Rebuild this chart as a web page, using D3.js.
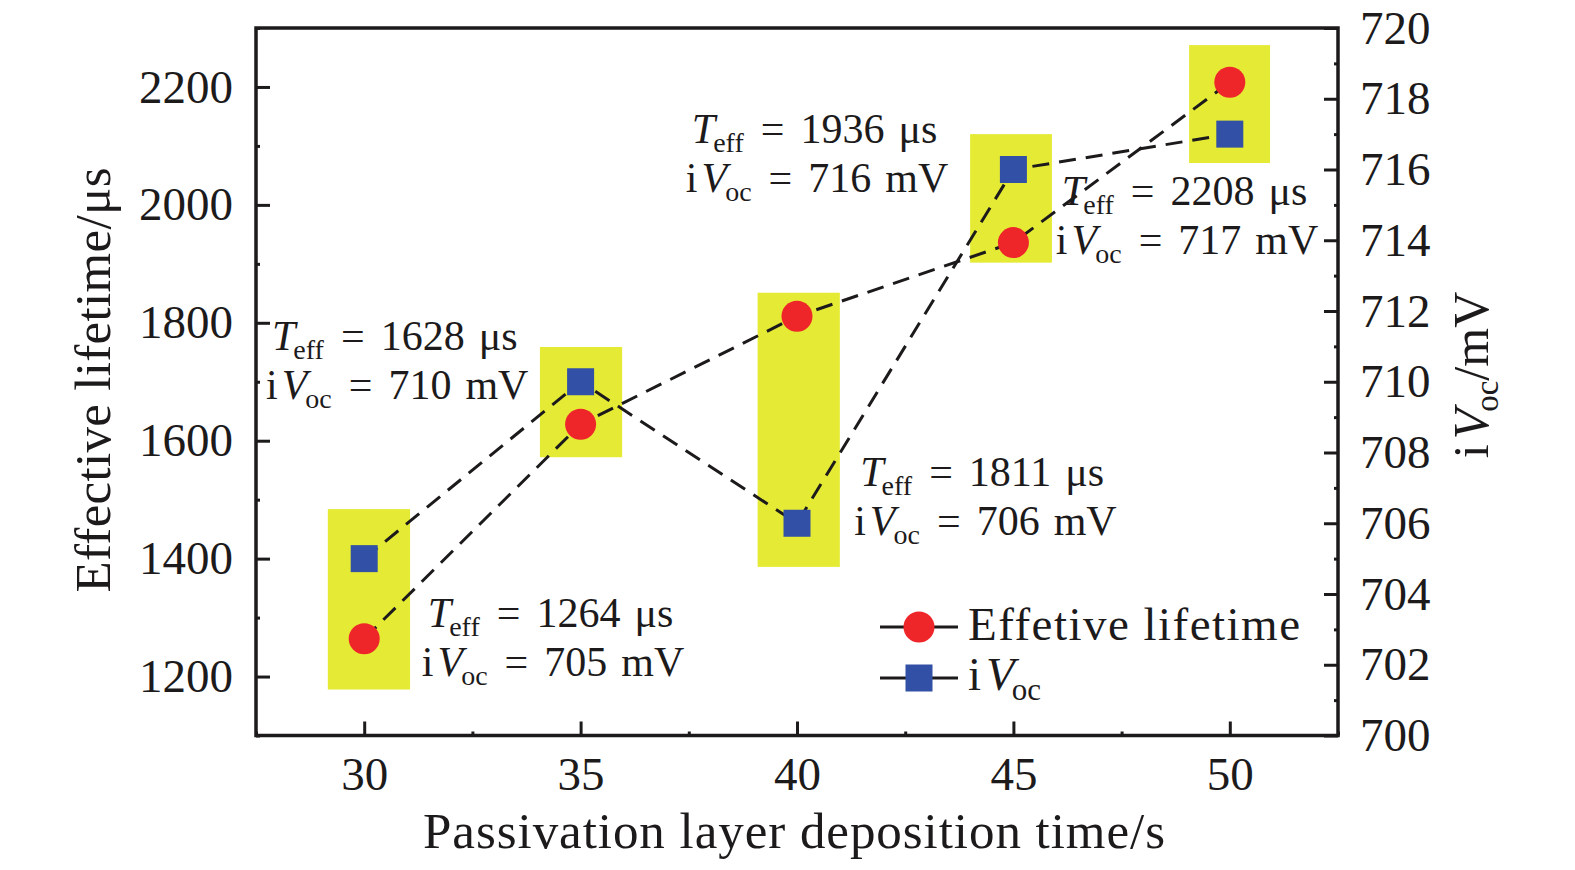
<!DOCTYPE html>
<html><head><meta charset="utf-8">
<script src="https://cdn.jsdelivr.net/npm/d3@7/dist/d3.min.js"></script>
<style>
body{margin:0;background:#fff}
text{font-family:"Liberation Serif","Times New Roman",serif;fill:#1c1a1b}
</style>
</head><body>
<svg id="c" width="1575" height="870"></svg>
<script>
// ---- data ----
const depositionTimes = [30, 35, 40, 45, 50];
const lifetime = [1264, 1628, 1811, 1936, 2208];      // µs (left axis)
const ivoc = [705, 710, 706, 716, 717];               // mV (right axis)
const xTicks = [30, 35, 40, 45, 50];
const leftTicks = [1200, 1400, 1600, 1800, 2000, 2200];
const rightTicks = [700, 702, 704, 706, 708, 710, 712, 714, 716, 718, 720];
// highlight boxes (data units: x from/to, lifetime low/high)
const boxXFrom = [29.16, 34.06, 39.09, 44.0, 49.06];
const boxXTo = [31.06, 35.96, 40.99, 45.89, 50.93];
const boxLifeLow = [1178, 1572, 1386, 1902, 2071];
const boxLifeHigh = [1484, 1759, 1851, 2120, 2271];
// annotation anchors (data units)
const labelX = [31.47, 27.87, 41.46, 37.57, 46.12];
const labelLife = [1284, 1754, 1523, 2105, 2000];
const legendLabels = ["Effetive lifetime", "iVoc"];

// ---- layout ----
const svg = d3.select("#c");
const L = 256, R = 1338, T = 28, B = 735.5;
const x = d3.scaleLinear().domain([27.5, 52.5]).range([L, R]);
const yL = d3.scaleLinear().domain([1100, 2300]).range([B, T]);
const yR = d3.scaleLinear().domain([700, 720]).range([B, T]);
const RED = "#ee2529", BLUE = "#3150a6", YEL = "#e5eb35", INK = "#1c1a1b";

// boxes
svg.append("g").selectAll("rect").data(depositionTimes).join("rect")
  .attr("x", (d, i) => x(boxXFrom[i]))
  .attr("width", (d, i) => x(boxXTo[i]) - x(boxXFrom[i]))
  .attr("y", (d, i) => yL(boxLifeHigh[i]))
  .attr("height", (d, i) => yL(boxLifeLow[i]) - yL(boxLifeHigh[i]))
  .attr("fill", YEL);

// annotations
const AF = 42;
function eq(t) {
  t.append("tspan").attr("dy", -9).attr("dx", 17).text("=");
}
function line1(g, xx, yy, val) {
  const t = g.append("text").attr("x", xx).attr("y", yy).attr("font-size", AF);
  t.append("tspan").attr("font-style", "italic").text("T");
  t.append("tspan").attr("font-size", 28).attr("dy", 9).attr("dx", -2).text("eff");
  eq(t);
  t.append("tspan").attr("dx", 16).text(val);
  t.append("tspan").attr("dx", 14).text("μs");
}
function line2(g, xx, yy, val) {
  const t = g.append("text").attr("x", xx).attr("y", yy).attr("font-size", AF);
  t.append("tspan").text("i");
  t.append("tspan").attr("font-style", "italic").attr("dx", 4).text("V");
  t.append("tspan").attr("font-size", 28).attr("dy", 9).attr("dx", -2).text("oc");
  eq(t);
  t.append("tspan").attr("dx", 16).text(val);
  t.append("tspan").attr("dx", 14).text("mV");
}
const ann = svg.append("g");
depositionTimes.forEach((d, i) => {
  const ax = x(labelX[i]), ay = yL(labelLife[i]);
  line1(ann, ax, ay, lifetime[i]);
  line2(ann, ax - 6, ay + 49, ivoc[i]);
});

// dashed lines
const lineL = d3.line().x((d, i) => x(depositionTimes[i])).y(d => yL(d));
const lineR = d3.line().x((d, i) => x(depositionTimes[i])).y(d => yR(d));
svg.append("path").attr("d", lineL(lifetime)).attr("fill", "none")
  .attr("stroke", INK).attr("stroke-width", 3).attr("stroke-dasharray", "17,10");
svg.append("path").attr("d", lineR(ivoc)).attr("fill", "none")
  .attr("stroke", INK).attr("stroke-width", 3).attr("stroke-dasharray", "17,10");

// markers
svg.append("g").selectAll("circle").data(lifetime).join("circle")
  .attr("cx", (d, i) => x(depositionTimes[i])).attr("cy", d => yL(d))
  .attr("r", 15.5).attr("fill", RED);
svg.append("g").selectAll("rect").data(ivoc).join("rect")
  .attr("x", (d, i) => x(depositionTimes[i]) - 13.5).attr("y", d => yR(d) - 13.5)
  .attr("width", 27).attr("height", 27).attr("fill", BLUE);

// axes
function styleAxis(g) {
  g.select(".domain").remove();
  g.selectAll(".tick line").attr("stroke", INK).attr("stroke-width", 3);
  g.selectAll(".tick text").attr("font-size", 47).attr("fill", INK)
    .attr("font-family", '"Liberation Serif", serif');
}
const gx = svg.append("g").attr("transform", `translate(0,${B})`)
  .call(d3.axisBottom(x).tickValues(xTicks).tickSize(-14).tickPadding(21).tickFormat(d3.format("d")));
styleAxis(gx);
const gxm = svg.append("g").attr("transform", `translate(0,${B})`)
  .call(d3.axisBottom(x).tickValues(d3.range(27.5, 52.6, 2.5).filter(v => v % 5 !== 0)).tickSize(-4).tickFormat(""));
styleAxis(gxm);
const gl = svg.append("g").attr("transform", `translate(${L},0)`)
  .call(d3.axisLeft(yL).tickValues(leftTicks).tickSize(-14).tickPadding(23).tickFormat(d3.format("d")));
styleAxis(gl);
const glm = svg.append("g").attr("transform", `translate(${L},0)`)
  .call(d3.axisLeft(yL).tickValues(d3.range(1100, 2301, 100).filter(v => v % 200 !== 0)).tickSize(-4).tickFormat(""));
styleAxis(glm);
const gr = svg.append("g").attr("transform", `translate(${R},0)`)
  .call(d3.axisRight(yR).tickValues(rightTicks).tickSize(-14).tickPadding(22).tickFormat(d3.format("d")));
styleAxis(gr);
const grm = svg.append("g").attr("transform", `translate(${R},0)`)
  .call(d3.axisRight(yR).tickValues(d3.range(701, 720, 2)).tickSize(-4).tickFormat(""));
styleAxis(grm);

// frame
svg.append("rect").attr("x", L).attr("y", T).attr("width", R - L).attr("height", B - T)
  .attr("fill", "none").attr("stroke", INK).attr("stroke-width", 3.5);

// axis titles
svg.append("text").attr("x", 794).attr("y", 848).attr("text-anchor", "middle")
  .attr("font-size", 51).attr("textLength", 742).attr("lengthAdjust", "spacing")
  .text("Passivation layer deposition time/s");
svg.append("text").attr("transform", "translate(110,380) rotate(-90)").attr("text-anchor", "middle")
  .attr("font-size", 51).attr("textLength", 425).attr("lengthAdjust", "spacing")
  .text("Effective lifetime/μs");
{
  const t = svg.append("text").attr("transform", "translate(1488,375) rotate(-90)")
    .attr("text-anchor", "middle").attr("font-size", 50);
  t.append("tspan").text("i");
  t.append("tspan").attr("font-style", "italic").attr("dx", 5).text("V");
  t.append("tspan").attr("font-size", 33).attr("dy", 10).attr("dx", -3).text("oc");
  t.append("tspan").attr("dy", -10).text("/mV");
}

// legend
const lg = svg.append("g");
[0, 1].forEach(k => {
  const cy = 627 + k * 51;
  lg.append("line").attr("x1", 880).attr("x2", 958).attr("y1", cy).attr("y2", cy)
    .attr("stroke", INK).attr("stroke-width", 3);
  if (k === 0) lg.append("circle").attr("cx", 919).attr("cy", cy).attr("r", 15.5).attr("fill", RED);
  else lg.append("rect").attr("x", 919 - 13.5).attr("y", cy - 13.5).attr("width", 27).attr("height", 27).attr("fill", BLUE);
});
lg.append("text").attr("x", 968).attr("y", 640).attr("font-size", 47)
  .attr("textLength", 332).attr("lengthAdjust", "spacing").text(legendLabels[0]);
{
  const t = lg.append("text").attr("x", 968).attr("y", 690).attr("font-size", 47);
  t.append("tspan").text("i");
  t.append("tspan").attr("font-style", "italic").attr("dx", 5).text("V");
  t.append("tspan").attr("font-size", 31).attr("dy", 10).attr("dx", -3).text("oc");
}
</script>
</body></html>
